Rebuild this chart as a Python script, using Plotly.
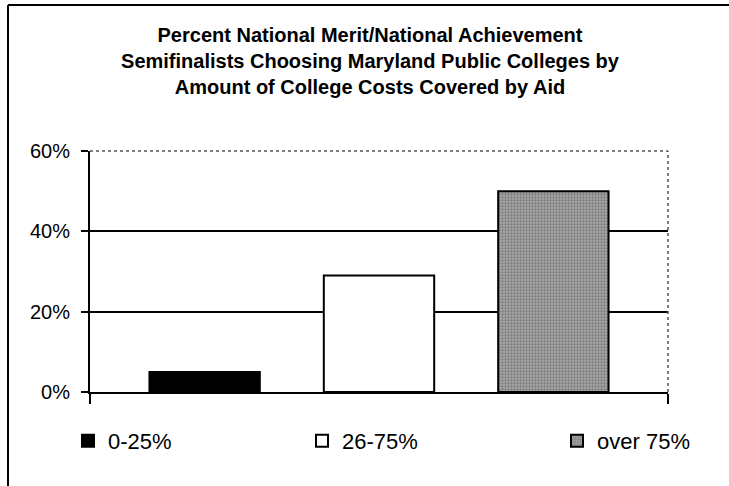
import plotly.graph_objects as go

# Data
categories = ["0-25%", "26-75%", "over 75%"]
values = [5, 29, 50]
group_label = ["All semifinalists"]
y_ticks = [0, 20, 40, 60]
y_tick_labels = ["0%", "20%", "40%", "60%"]
title_lines = [
    "Percent National Merit/National Achievement",
    "Semifinalists Choosing Maryland Public Colleges by",
    "Amount of College Costs Covered by Aid",
]

FONT = "Arial, Liberation Sans, sans-serif"

styles = [
    dict(color="#000000", line=dict(color="#000000", width=2)),
    dict(color="#ffffff", line=dict(color="#000000", width=2)),
    dict(color="#9a9a9a", line=dict(color="#000000", width=2),
         pattern=dict(shape=".", fgcolor="#505050", bgcolor="#a8a8a8",
                      size=3, solidity=0.45)),
]
legend_ids = ["legend", "legend2", "legend3"]

fig = go.Figure()
for name, val, st, lg in zip(categories, values, styles, legend_ids):
    fig.add_trace(go.Bar(x=group_label, y=[val], name=name, marker=st,
                         legend=lg, showlegend=True, hoverinfo="name+y"))

W, H = 729, 486
L, R, T, B = 90, 61, 151, 94
pw, ph = W - L - R, H - T - B


def px_x(p):
    return (p - L) / pw


def px_y(p):
    return (H - B - p) / ph


legend_common = dict(orientation="h", yanchor="middle", xanchor="left",
                     y=px_y(441), font=dict(family=FONT, size=22, color="black"),
                     bgcolor="rgba(0,0,0,0)", borderwidth=0)

fig.update_layout(
    width=W, height=H,
    margin=dict(l=L, r=R, t=T, b=B),
    paper_bgcolor="white", plot_bgcolor="white",
    showlegend=True,
    barmode="group", bargap=0.095, bargroupgap=0.367,
    font=dict(family=FONT, color="black"),
    title=dict(text="<br>".join(title_lines), x=370 / W, xanchor="center",
               xref="container", yref="container", y=1 - 42 / H, yanchor="middle",
               font=dict(family=FONT, size=20, color="black", weight="bold")),
    legend=dict(legend_common, x=px_x(68)),
    legend2=dict(legend_common, x=px_x(302)),
    legend3=dict(legend_common, x=px_x(557)),
    xaxis=dict(type="category", range=[-0.5, 0.5], showticklabels=False,
               ticks="outside", tickson="boundaries", ticklen=10, tickwidth=2,
               tickcolor="black", showline=True, linecolor="black", linewidth=2,
               showgrid=False, zeroline=False, fixedrange=True),
    yaxis=dict(range=[0, 60], tickmode="array", tickvals=y_ticks, ticktext=y_tick_labels,
               ticks="outside", ticklen=7, tickwidth=2, tickcolor="black",
               ticklabelstandoff=7,
               tickfont=dict(family=FONT, size=20, color="black"),
               showline=True, linecolor="black", linewidth=2,
               showgrid=True, gridcolor="black", gridwidth=2,
               zeroline=False, fixedrange=True),
    shapes=[
        # dotted plot-area border (top and right)
        dict(type="line", xref="paper", yref="paper", x0=0, x1=1, y0=1, y1=1,
             line=dict(color="#555555", width=1.5, dash="dot"), layer="above"),
        dict(type="line", xref="paper", yref="paper", x0=1, x1=1, y0=0, y1=1,
             line=dict(color="#555555", width=1.5, dash="dot"), layer="above"),
        # outer chart border (left and top)
        dict(type="line", xref="paper", yref="paper", x0=px_x(8), x1=px_x(8),
             y0=px_y(5), y1=px_y(H + 5), line=dict(color="black", width=2)),
        dict(type="line", xref="paper", yref="paper", x0=px_x(8), x1=px_x(W + 5),
             y0=px_y(5), y1=px_y(5), line=dict(color="black", width=2)),
    ],
)

fig.write_html("out.html", config={"displayModeBar": False},
               post_script="document.body.style.margin='0';document.body.style.overflow='hidden';")
